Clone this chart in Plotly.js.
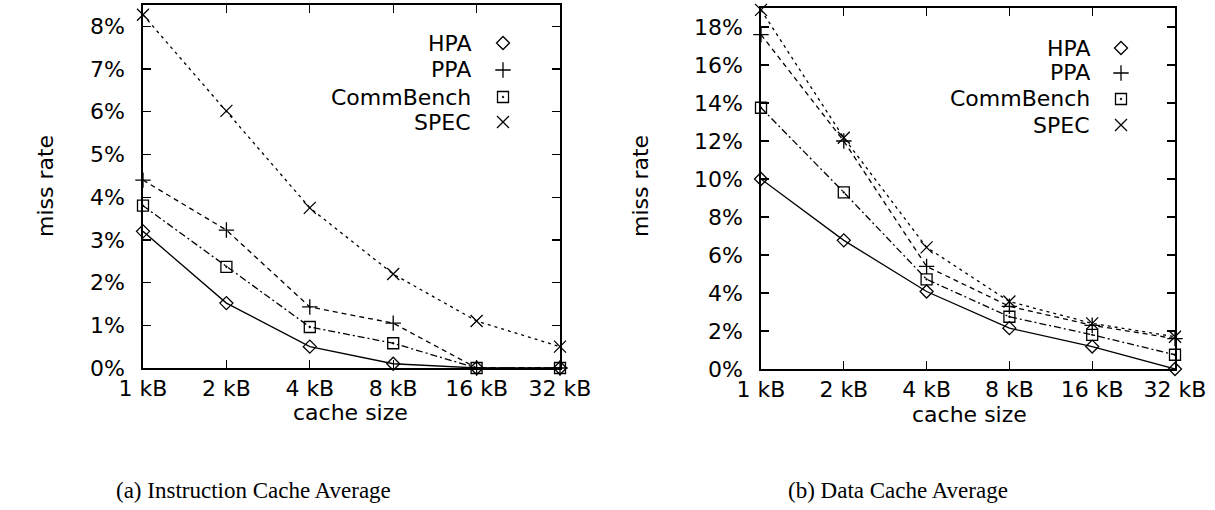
<!DOCTYPE html>
<html>
<head>
<meta charset="utf-8">
<script src="https://cdn.plot.ly/plotly-3.0.1.min.js"></script>
<style>html,body{margin:0;padding:0;background:#fff;}#chart{width:1215px;height:510px;}</style>
</head>
<body>
<div id="chart"></div>
<script>
// ---- data ----
const cacheSizes = ['1 kB', '2 kB', '4 kB', '8 kB', '16 kB', '32 kB'];
const seriesNames = ['HPA', 'PPA', 'CommBench', 'SPEC'];
// (a) Instruction cache average miss rate (%)
const icHPA  = [3.2, 1.52, 0.5, 0.1, 0, 0];
const icPPA  = [4.4, 3.23, 1.43, 1.05, 0, 0];
const icComm = [3.8, 2.37, 0.96, 0.58, 0, 0];
const icSPEC = [8.27, 6.02, 3.75, 2.2, 1.1, 0.5];
// (b) Data cache average miss rate (%)
const dcHPA  = [10.0, 6.77, 4.08, 2.15, 1.18, 0];
const dcPPA  = [17.6, 12.0, 5.4, 3.3, 2.3, 1.6];
const dcComm = [13.75, 9.3, 4.72, 2.75, 1.8, 0.75];
const dcSPEC = [18.9, 12.17, 6.4, 3.55, 2.4, 1.7];
const icTicks = [0, 1, 2, 3, 4, 5, 6, 7, 8];
const dcTicks = [0, 2, 4, 6, 8, 10, 12, 14, 16, 18];

// ---- styles ----
const styles = [
  {dash: 'solid', symbol: 'diamond-open', size: 10},
  {dash: '5px,4px', symbol: 'cross-thin-open', size: 11},
  {dash: '7px,3px,2px,3px', symbol: 'square-open-dot', size: 11},
  {dash: '3px,4px', symbol: 'x-thin-open', size: 12}
];
const FONT = 'DejaVu Sans, Liberation Sans, Arial, sans-serif';
const FS = 22;

function mkTrace(vals, i, xa, ya) {
  const s = styles[i];
  return {
    x: cacheSizes, y: vals, type: 'scatter', mode: 'lines+markers',
    xaxis: xa, yaxis: ya, name: seriesNames[i], showlegend: false, cliponaxis: false,
    line: {color: '#000', width: 1.3, dash: s.dash},
    marker: {symbol: s.symbol, size: s.size, color: '#000', line: {color: '#000', width: 1.3}}
  };
}

const data = [];
[icHPA, icPPA, icComm, icSPEC].forEach((v, i) => data.push(mkTrace(v, i, 'x', 'y')));
[dcHPA, dcPPA, dcComm, dcSPEC].forEach((v, i) => data.push(mkTrace(v, i, 'x2', 'y2')));

// plot boxes in pixels (layout only)
const boxL = {x0: 143, x1: 560, y0: 5, y1: 368};
const boxR = {x0: 761, x1: 1175, y0: 8, y1: 369};

// legend keys: drawn on overlay axes spanning each plot box (fractions of the box)
const legends = [
  {box: boxL, xa: 'x3', ya: 'y3', symX: 503, textX: 473, ys: [43, 70, 97, 122]},
  {box: boxR, xa: 'x4', ya: 'y4', symX: 1121, textX: 1092, ys: [48, 73, 99, 125]}
];
const annotations = [];
legends.forEach(L => {
  const b = L.box;
  seriesNames.forEach((n, i) => {
    const s = styles[i];
    data.push({
      x: [(L.symX - b.x0) / (b.x1 - b.x0)], y: [(b.y1 - L.ys[i]) / (b.y1 - b.y0)],
      type: 'scatter', mode: 'markers',
      xaxis: L.xa, yaxis: L.ya, showlegend: false, hoverinfo: 'skip', cliponaxis: false,
      marker: {symbol: s.symbol, size: s.size, color: '#000', line: {color: '#000', width: 1.3}}
    });
    annotations.push({
      xref: 'paper', yref: 'paper', x: L.textX / 1215, y: 1 - L.ys[i] / 510,
      xanchor: 'right', yanchor: 'middle', showarrow: false, text: n,
      font: {family: FONT, size: FS, color: '#000'}
    });
  });
});

function addText(txt, px, py, font, size, angle) {
  annotations.push({
    xref: 'paper', yref: 'paper', x: px / 1215, y: 1 - py / 510, xanchor: 'center', yanchor: 'middle',
    showarrow: false, text: txt, textangle: angle || 0, font: {family: font, size: size, color: '#000'}
  });
}
// axis titles
addText('cache size', 350, 412, FONT, FS);
addText('cache size', 969, 414, FONT, FS);
addText('miss rate', 45, 186, FONT, FS, -90);
addText('miss rate', 640, 186, FONT, FS, -90);
// sub-captions
const SERIF = 'Liberation Serif, DejaVu Serif, serif';
addText('(a) Instruction Cache Average', 253, 490, SERIF, 23);
addText('(b) Data Cache Average', 898, 490, SERIF, 23);

function xAxis(b, anchor) {
  return {
    domain: [b.x0 / 1215, b.x1 / 1215], anchor: anchor, type: 'category', categoryarray: cacheSizes,
    categoryorder: 'array', range: [0, 5], showgrid: false, zeroline: false, showline: true,
    linecolor: '#000', linewidth: 1.6, mirror: 'ticks', ticks: 'inside', ticklen: 8, tickwidth: 1.3,
    tickcolor: '#000', tickfont: {family: FONT, size: FS, color: '#000'}, ticklabelstandoff: 0,
    automargin: false, fixedrange: true
  };
}
function yAxis(b, anchor, range, ticks) {
  return {
    domain: [1 - b.y1 / 510, 1 - b.y0 / 510], anchor: anchor, range: range, tickvals: ticks,
    ticktext: ticks.map(t => t + '%'), showgrid: false, zeroline: false, showline: true,
    linecolor: '#000', linewidth: 1.6, mirror: 'ticks', ticks: 'inside', ticklen: 8, tickwidth: 1.3,
    tickcolor: '#000', tickfont: {family: FONT, size: FS, color: '#000'}, ticklabelstandoff: 12,
    automargin: false, fixedrange: true
  };
}

const layout = {
  width: 1215, height: 510, margin: {l: 0, r: 0, t: 0, b: 0},
  paper_bgcolor: '#fff', plot_bgcolor: 'rgba(0,0,0,0)', showlegend: false,
  xaxis: xAxis(boxL, 'y'),
  yaxis: yAxis(boxL, 'x', [0, 8.5], icTicks),
  xaxis2: xAxis(boxR, 'y2'),
  yaxis2: yAxis(boxR, 'x2', [0, 19], dcTicks),
  xaxis3: {range: [0, 1], visible: false, overlaying: 'x', anchor: 'y3', fixedrange: true},
  yaxis3: {range: [0, 1], visible: false, overlaying: 'y', anchor: 'x3', fixedrange: true},
  xaxis4: {range: [0, 1], visible: false, overlaying: 'x2', anchor: 'y4', fixedrange: true},
  yaxis4: {range: [0, 1], visible: false, overlaying: 'y2', anchor: 'x4', fixedrange: true},
  annotations: annotations
};

Plotly.newPlot('chart', data, layout, {displayModeBar: false, staticPlot: true});
</script>
</body>
</html>
